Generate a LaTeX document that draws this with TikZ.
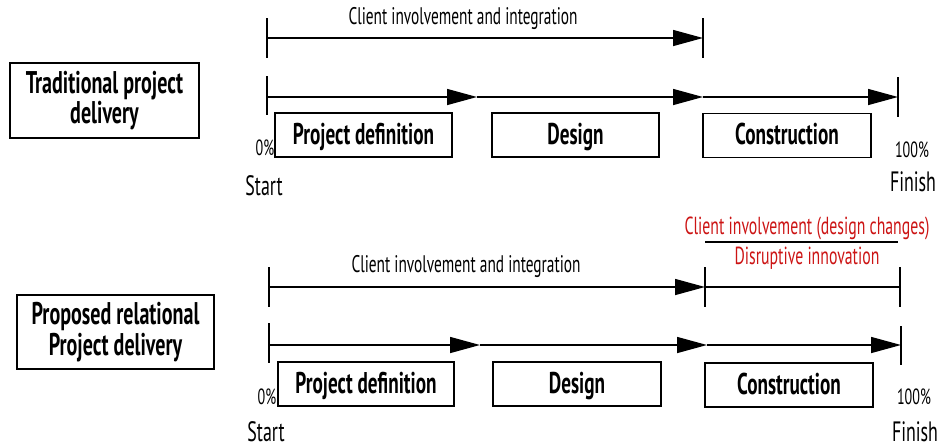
\documentclass[tikz,border=0pt]{standalone}
\usepackage{fontspec}
\setmainfont[FakeStretch=0.64]{PT Sans}
\usetikzlibrary{arrows.meta,calc}

\definecolor{alertred}{RGB}{204,20,20}

\begin{document}
\begin{tikzpicture}[x=0.75pt,y=-0.75pt,
  axis/.style={line width=1.1pt},
  arrowline/.style={axis,-{Triangle[length=22.5pt,width=12pt]}},
  phase/.style={draw,line width=1.1pt,fill=white,inner sep=0pt,
    minimum height=33pt,font=\fontsize{22.5}{24}\selectfont\bfseries},
  method/.style={draw,line width=1.1pt,inner sep=0pt,align=center,
    font=\fontsize{23.5}{23}\selectfont\bfseries},
  caption/.style={inner sep=0pt,font=\fontsize{18}{20}\selectfont},
  pct/.style={inner sep=0pt,font=\fontsize{16.5}{18}\selectfont},
  endlabel/.style={inner sep=0pt,font=\fontsize{21}{23}\selectfont},
  redtext/.style={inner sep=0pt,text=alertred,font=\fontsize{18.5}{20}\selectfont}
]
\useasboundingbox (0,0) rectangle (938,447);

% ---------- traditional delivery ----------
\node[method,minimum width=141.75pt,minimum height=56.25pt] (trad) at (104.5,100.5)
  {Traditional project\\delivery};

% client line
\coordinate (tc0) at (267,38);
\coordinate (tc1) at (703,38);
\node[caption] (tcl) at (463,18) {Client involvement and integration};
\draw[arrowline] (tc0) -- (tc1);
\draw[axis] ($(tc0)+(0,-20)$) -- ($(tc0)+(0,20)$);
\draw[axis] ($(tc1)+(0,-20)$) -- ($(tc1)+(0,20)$);

% process line
\coordinate (tp0) at (267,97);
\coordinate (tp1) at (477,97);
\coordinate (tp2) at (703,97);
\coordinate (tp3) at (898,97);
\draw[arrowline] (tp0) -- (tp1);
\draw[arrowline] (tp1) -- (tp2);
\draw[arrowline] (tp2) -- (tp3);
\draw[axis] ($(tp0)+(0,-21)$) -- ($(tp0)+(0,18)$);
\draw[axis] ($(tp3)+(0,-20)$) -- ($(tp3)+(0,20)$);

\node[pct] (tzero) at (265,148) {0\%};
\node[endlabel] (tstart) at (264,186) {Start};
\node[pct] (thund) at (912,150) {100\%};
\node[endlabel] (tfin) at (913,182) {Finish};

\node[phase,minimum width=132.75pt,text depth=0pt,text height=14pt] (tpd) at (363.5,135) {Project definition};
\node[phase,minimum width=125.25pt,text depth=0pt,text height=14pt] (tds) at (575.5,135) {Design};
\node[phase,minimum width=126pt,text depth=0pt,text height=14pt] (tcs) at (787,135.5) {Construction};

% ---------- relational delivery ----------
\node[method,minimum width=147.75pt,minimum height=55.5pt] (rel) at (115.5,332)
  {Proposed relational\\Project delivery};

\node[redtext] (rci) at (807,228) {Client involvement (design changes)};
\node[redtext] (rdi) at (807,258) {Disruptive innovation};
\coordinate (rb0) at (705,242);
\coordinate (rb1) at (898,242);
\draw[axis] (rb0) -- (rb1);

% client line
\coordinate (rc0) at (269,287);
\coordinate (rc1) at (705,287);
\coordinate (rc2) at (900,287);
\node[caption] (rcl) at (466,266) {Client involvement and integration};
\draw[arrowline] (rc0) -- (rc1);
\draw[axis] (rc1) -- (rc2);
\draw[axis] ($(rc0)+(0,-20)$) -- ($(rc0)+(0,20)$);
\draw[axis] ($(rc1)+(0,-20)$) -- ($(rc1)+(0,20)$);
\draw[axis] ($(rc2)+(0,-20)$) -- ($(rc2)+(0,20)$);

% process line
\coordinate (rp0) at (269,345);
\coordinate (rp1) at (480,345);
\coordinate (rp2) at (707,345);
\coordinate (rp3) at (901,345);
\draw[arrowline] (rp0) -- (rp1);
\draw[arrowline] (rp1) -- (rp2);
\draw[arrowline] (rp2) -- (rp3);
\draw[axis] ($(rp0)+(0,-22)$) -- ($(rp0)+(0,18)$);
\draw[axis] ($(rp3)+(0,-19)$) -- ($(rp3)+(0,20)$);

\node[pct] (rzero) at (267,397) {0\%};
\node[endlabel] (rstart) at (266,432) {Start};
\node[pct] (rhund) at (914,397) {100\%};
\node[endlabel] (rfin) at (915,432) {Finish};

\node[phase,minimum width=132pt,text depth=0pt,text height=14pt] (rpd) at (366,384) {Project definition};
\node[phase,minimum width=126pt,text depth=0pt,text height=14pt] (rds) at (577,384) {Design};
\node[phase,minimum width=126pt,text depth=0pt,text height=14pt] (rcs) at (789,385) {Construction};
\end{tikzpicture}
\end{document}
